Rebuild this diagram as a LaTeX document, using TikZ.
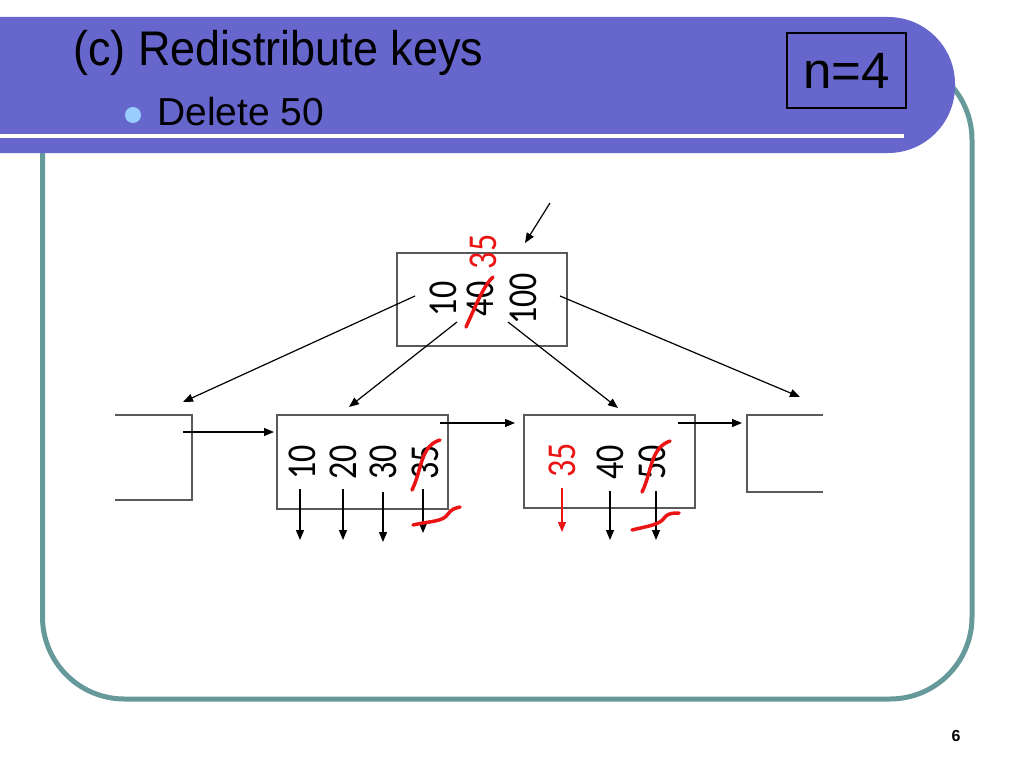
\documentclass[tikz,border=0pt]{standalone}
\usepackage{fontspec}
\setmainfont{Liberation Sans}
\newfontfamily\keyfont{Carlito}
\usetikzlibrary{arrows.meta}
\definecolor{bannerblue}{RGB}{102,102,204}
\definecolor{frameteal}{RGB}{102,153,153}
\definecolor{bulletblue}{RGB}{153,204,255}
\definecolor{inkred}{RGB}{235,20,20}
\begin{document}
\begin{tikzpicture}[x=1pt,y=-1pt,
    box/.style={draw=black!65,line width=1.4pt,inner sep=0pt},
    key/.style={rotate=90,xscale=.83,inner sep=0pt,font=\keyfont\fontsize{41}{41}\selectfont},
    ptr/.style={line width=1.2pt,-{Triangle[length=10pt,width=8pt]}},
    strike/.style={inkred,line width=3.5pt,line cap=round}]
		\clip(0,0) rectangle (1024,768);
		% slide frame and banner
		\draw[frameteal,line width=5pt,rounded corners=82pt](42.5,58) rectangle (972,699);
		\fill[bannerblue](-120,17) [rounded corners=67pt]-- (955,17) -- (955,153) -- (-120,153) -- cycle;
		\draw[white,line width=3.5pt](0,136)--(904,136);
		\node[anchor=base west,inner sep=0pt,yscale=1.08,font=\fontsize{45}{45}\selectfont](title) at (73,66){(c) Redistribute keys};
		\fill[bulletblue](133,115) circle(8);
		\node[anchor=base west,inner sep=0pt,font=\fontsize{39}{39}\selectfont](sub) at (157,125){Delete 50};
		\node[draw=black,line width=1.4pt,minimum width=119pt,minimum height=75pt,inner sep=0pt,font=\fontsize{51}{51}\selectfont](n) at (846.5,70.5){n=4};
		\node[font=\bfseries\fontsize{16}{16}\selectfont](page) at (956,736){6};
		% the three nodes
		\node[box,minimum width=170pt,minimum height=93pt](root) at (482,299.5){};
		\node[box,minimum width=171pt,minimum height=94pt](leafA) at (362.5,462){};
		\node[box,minimum width=171pt,minimum height=93pt](leafB) at (609.5,461.5){};
		\draw[black!65,line width=1.4pt](115,415)--(192,415)--(192,500)--(115,500);
		\draw[black!65,line width=1.4pt](823,415)--(747,415)--(747,492)--(823,492);
		% keys
		\node[key](r10) at (443,299){10};
		\node[key](r40) at (480,299){40};
		\node[key](r100) at (523,299){100};
		\node[key,inkred](r35) at (483,252){35};
		\node[key](a10) at (302,462){10};
		\node[key](a20) at (343,462){20};
		\node[key](a30) at (383,462){30};
		\node[key](a35) at (425,462){35};
		\node[key,inkred](b35) at (562,460){35};
		\node[key](b40) at (610,462){40};
		\node[key](b50) at (652,462){50};
		% pointers
		\coordinate(in) at (550,203);
		\coordinate(rin) at (525,243);
		\coordinate(r0) at (415,296);
		\coordinate(r1) at (457,322);
		\coordinate(r2) at (508,322);
		\coordinate(r3) at (560,296);
		\coordinate(stubL) at (183,402);
		\coordinate(aTop) at (349,407);
		\coordinate(bTop) at (618,408);
		\coordinate(stubR) at (800,397);
		\draw[ptr](in)--(rin);
		\draw[ptr](r0)--(stubL);
		\draw[ptr](r1)--(aTop);
		\draw[ptr](r2)--(bTop);
		\draw[ptr](r3)--(stubR);
		\coordinate(sL) at (183,432);
		\coordinate(aL) at (274,432);
		\coordinate(aR) at (440,423);
		\coordinate(bL) at (515,423);
		\coordinate(bR) at (678,423);
		\coordinate(sR) at (742,423);
		\draw[ptr](sL)--(aL);
		\draw[ptr](aR)--(bL);
		\draw[ptr](bR)--(sR);
		\foreach \x/\s/\e in {300/489/540,343/489/540,383/492/542,423/489/533,610/491/540,656/491/540}
			\draw[ptr](\x,\s)--(\x,\e);
		\draw[ptr,inkred](562,488)--(562,532);
		% red corrections
		\draw[strike](466,327) .. controls (476,305) and (484,285) .. (493,277);
		\draw[strike](412,490) .. controls (422,470) and (420,446) .. (440,440);
		\draw[strike](413,525) .. controls (430,521) and (443,522) .. (448,514) .. controls (451,509) and (456,508) .. (460,507);
		\draw[strike](642,492) .. controls (652,472) and (650,448) .. (670,441);
		\draw[strike](632,530) .. controls (648,526) and (660,525) .. (665,517) .. controls (668,513) and (674,513) .. (679,513);
	    \end{tikzpicture}
\end{document}
